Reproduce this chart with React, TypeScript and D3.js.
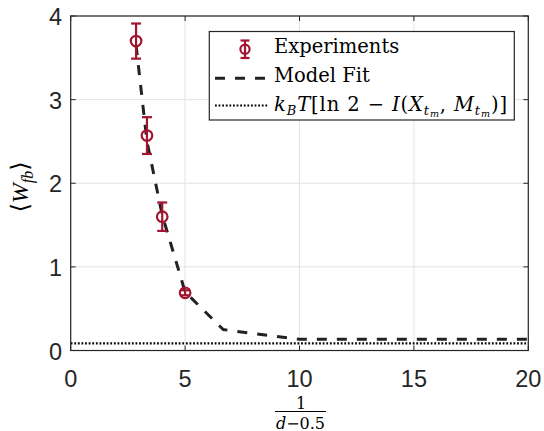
import React from "react";
import * as d3 from "d3";

// ---- data ----
const expX = [2.857, 3.333, 4, 5];
const expY = [3.7, 2.57, 1.6, 0.69];
const expErr = [0.21, 0.22, 0.17, 0.03];

const modelX = [2.857, 3.333, 4, 5, 6.667, 10, 20];
const modelY = [3.65, 2.5, 1.62, 0.7, 0.25, 0.134, 0.134];

const boundX = [0, 20];
const boundY = [0.086, 0.086];

const xTicks = [0, 5, 10, 15, 20];
const yTicks = [0, 1, 2, 3, 4];

const legendLabels = ["Experiments", "Model Fit"];

const W = 544;
const H = 431;
const L = 70.7, R = 528.3, T = 16, B = 350.5;
const RED = "#A2142F";
const AX = "#262626";

export default function App() {
  const x = d3.scaleLinear().domain([0, 20]).range([L, R]);
  const y = d3.scaleLinear().domain([0, 4]).range([B, T]);
  const line = d3.line<number>().x((_, i) => x(modelX[i])).y((d) => y(d));
  const bline = d3.line<number>().x((_, i) => x(boundX[i])).y((d) => y(d));

  const serif = "'DejaVu Serif', 'Liberation Serif', serif";
  const tserif = "'Liberation Serif', 'DejaVu Serif', serif";
  const sans = "'Liberation Sans', Arial, sans-serif";

  const lx = 209.3, ly = 31.5, lw = 305, lh = 88.5;

  return (
    <svg
      width={W}
      height={H}
      viewBox={`0 0 ${W} ${H}`}
      style={{ position: "absolute", left: 0, top: 0, background: "#fff" }}
    >
      <rect x={0} y={0} width={W} height={H} fill="#fff" />
      {/* grid */}
      {xTicks.map((t) => (
        <line key={"gx" + t} x1={x(t)} x2={x(t)} y1={T} y2={B} stroke="#e3e3e3" strokeWidth={1} />
      ))}
      {yTicks.map((t) => (
        <line key={"gy" + t} x1={L} x2={R} y1={y(t)} y2={y(t)} stroke="#e3e3e3" strokeWidth={1} />
      ))}

      {/* bound dotted */}
      <path d={bline(boundY) || ""} fill="none" stroke="#000" strokeWidth={2.2} strokeDasharray="1.8,1.8" />
      {/* model dashed */}
      <path d={line(modelY) || ""} fill="none" stroke="#222" strokeWidth={3} strokeDasharray="10,10" />

      {/* experiments */}
      {expX.map((xv, i) => {
        const cx = x(xv);
        const yt = y(expY[i] + expErr[i]);
        const yb = y(expY[i] - expErr[i]);
        return (
          <g key={"e" + i} stroke={RED} strokeWidth={2.2} fill="none">
            <line x1={cx} x2={cx} y1={yt} y2={yb} />
            <line x1={cx - 5} x2={cx + 5} y1={yt} y2={yt} />
            <line x1={cx - 5} x2={cx + 5} y1={yb} y2={yb} />
            <circle cx={cx} cy={y(expY[i])} r={5.3} />
          </g>
        );
      })}

      {/* axes box */}
      <rect x={L} y={T} width={R - L} height={B - T} fill="none" stroke={AX} strokeWidth={1.2} />
      {xTicks.map((t) => (
        <g key={"tx" + t}>
          <line x1={x(t)} x2={x(t)} y1={B} y2={B - 5} stroke={AX} strokeWidth={1} />
          <line x1={x(t)} x2={x(t)} y1={T} y2={T + 5} stroke={AX} strokeWidth={1} />
          <text x={x(t)} y={387} textAnchor="middle" fontFamily={sans} fontSize={23.5} fill={AX}>
            {t}
          </text>
        </g>
      ))}
      {yTicks.map((t) => (
        <g key={"ty" + t}>
          <line x1={L} x2={L + 5} y1={y(t)} y2={y(t)} stroke={AX} strokeWidth={1} />
          <line x1={R} x2={R - 5} y1={y(t)} y2={y(t)} stroke={AX} strokeWidth={1} />
          <text x={62} y={y(t) + 9} textAnchor="end" fontFamily={sans} fontSize={23.5} fill={AX}>
            {t}
          </text>
        </g>
      ))}

      {/* x label: fraction */}
      <text x={301} y={408.5} textAnchor="middle" fontFamily={serif} fontSize={16} fill="#000">1</text>
      <line x1={275} x2={326} y1={411.5} y2={411.5} stroke="#000" strokeWidth={1} />
      <text x={300.5} y={428.5} textAnchor="middle" fontFamily={serif} fontSize={16} fill="#000">
        <tspan fontStyle="italic">d</tspan>
        <tspan>−0.5</tspan>
      </text>

      {/* y label */}
      <text
        transform="translate(28,187) rotate(-90)"
        textAnchor="middle"
        fontFamily={tserif}
        fontSize={24}
        fill="#000"
      >
        <tspan>⟨</tspan>
        <tspan fontStyle="italic">W</tspan>
        <tspan fontStyle="italic" fontSize={16} dy={5}>fb</tspan>
        <tspan dy={-5}>⟩</tspan>
      </text>

      {/* legend */}
      <rect x={lx} y={ly} width={lw} height={lh} fill="#fff" stroke={AX} strokeWidth={1.2} />
      <g stroke={RED} strokeWidth={2.2} fill="none">
        <line x1={245} x2={245} y1={40.5} y2={58} />
        <line x1={240.5} x2={249.5} y1={40.5} y2={40.5} />
        <line x1={240.5} x2={249.5} y1={58} y2={58} />
        <circle cx={245} cy={49.3} r={4.6} />
      </g>
      <line x1={215} x2={268} y1={78.3} y2={78.3} stroke="#222" strokeWidth={3} strokeDasharray="10,10" />
      <line x1={215} x2={268} y1={105.5} y2={105.5} stroke="#000" strokeWidth={2.2} strokeDasharray="1.8,1.8" />
      <text x={274} y={53.3} fontFamily={serif} fontSize={19.5} fill="#000">
        {legendLabels[0]}
      </text>
      <text x={274} y={81.7} fontFamily={serif} fontSize={19.5} fill="#000">
        {legendLabels[1]}
      </text>
      <text x={274} y={110.5} fontFamily={serif} fontSize={19.5} fill="#000" textLength={233} lengthAdjust="spacing">
        <tspan fontStyle="italic">k</tspan>
        <tspan fontStyle="italic" fontSize={13} dy={4}>B</tspan>
        <tspan fontStyle="italic" dy={-4}>T</tspan>
        <tspan>{"[ln 2 − "}</tspan>
        <tspan fontStyle="italic">I</tspan>
        <tspan>(</tspan>
        <tspan fontStyle="italic">X</tspan>
        <tspan fontStyle="italic" fontSize={13} dy={4}>t</tspan>
        <tspan fontStyle="italic" fontSize={9.5} dy={2.5}>m</tspan>
        <tspan dy={-6.5}>{", "}</tspan>
        <tspan fontStyle="italic">M</tspan>
        <tspan fontStyle="italic" fontSize={13} dy={4}>t</tspan>
        <tspan fontStyle="italic" fontSize={9.5} dy={2.5}>m</tspan>
        <tspan dy={-6.5}>)]</tspan>
      </text>
    </svg>
  );
}
